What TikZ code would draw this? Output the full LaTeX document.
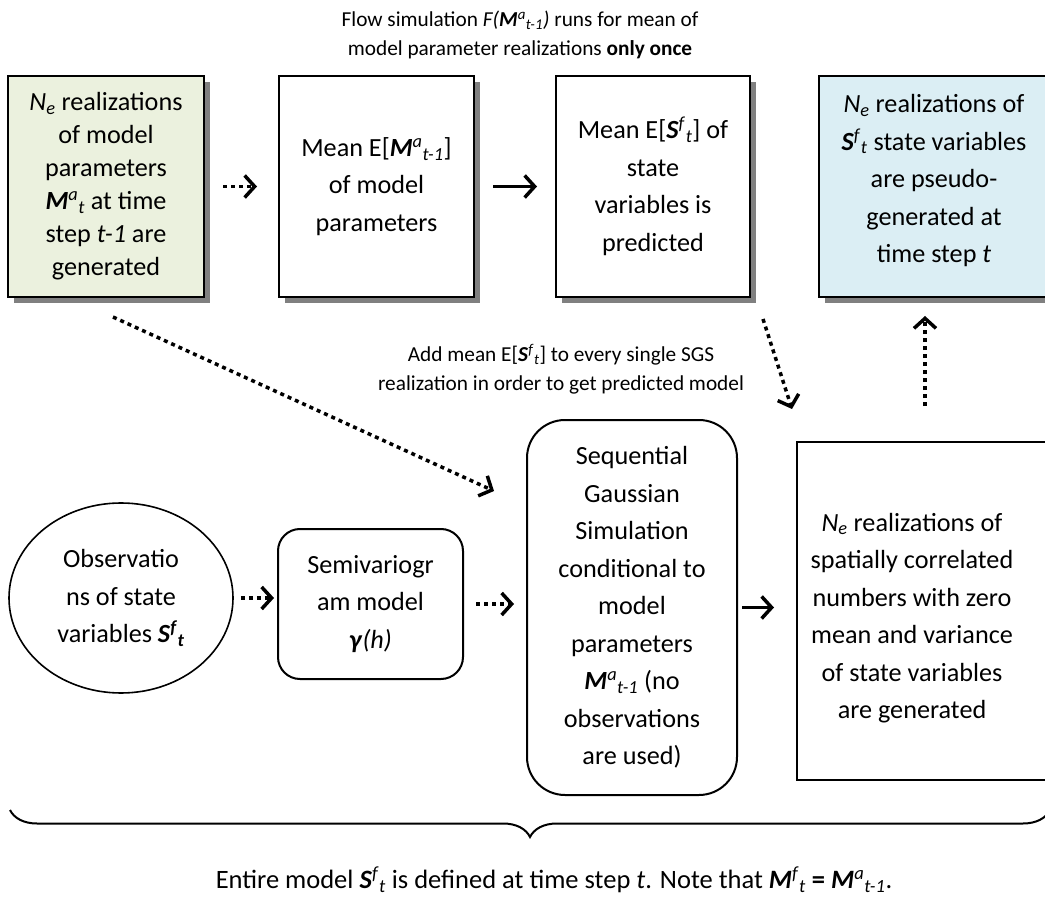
\documentclass[tikz,border=0pt]{standalone}
\usepackage{fontspec}
\setmainfont{Carlito}
\usetikzlibrary{arrows.meta,shapes.geometric,shadows,calc,decorations.pathreplacing}

\newcommand{\bi}[1]{\textbf{\textit{#1}}}
\newcommand{\sups}[1]{\textsuperscript{#1}}
\newcommand{\subs}[1]{\textsubscript{#1}}

\definecolor{paleGreen}{HTML}{EBF1DE}
\definecolor{paleBlue}{HTML}{DBEEF4}

\begin{document}
\begin{tikzpicture}[x=1pt,y=-1pt,
  txt/.style={font=\fontsize{26.2}{37.5}\selectfont, align=center, inner sep=0pt},
  tight/.style={font=\fontsize{26.2}{33}\selectfont},
  stepbox/.style={txt, draw, line width=2pt, minimum height=221pt,
    drop shadow={shadow xshift=6pt,shadow yshift=-6pt,fill=black!50,opacity=1}},
  roundbox/.style={txt, draw, line width=2pt},
  flow/.style={line width=3.5pt, -{Straight Barb[length=10pt,width=22pt,line width=3.5pt]}},
  dots/.style={flow, dash pattern=on 4pt off 4pt},
  note/.style={font=\fontsize{21.3}{29}\selectfont, align=center, inner sep=0pt}]

\useasboundingbox (0,0) rectangle (1045,904);

% top row
\node[stepbox, tight, fill=paleGreen, minimum width=196pt] (b1) at (106,186.5)
  {\textit{N\subs{e}} realizations\\ of model\\ parameters\\
   \bi{M}\sups{\textit{a}}\subs{\textit{t}} at time\\ step \textit{t-1} are\\ generated};
\node[stepbox, fill=white, minimum width=195pt] (b2) at (376.5,186.5)
  {Mean E[\bi{M}\sups{\textit{a}}\subs{\textit{t-1}}]\\ of model\\ parameters};
\node[stepbox, fill=white, minimum width=194pt] (b3) at (653,186.5)
  {Mean E[\bi{S}\sups{\textit{f}}\subs{\textit{t}}] of\\ state\\ variables is\\ predicted};
\node[stepbox, fill=paleBlue, minimum width=230pt] (b4) at (934,186.5)
  {\textit{N\subs{e}} realizations of\\ \bi{S}\sups{\textit{f}}\subs{\textit{t}} state variables\\
   are pseudo-\\ generated at\\ time step \textit{t}\\[-21.5pt]\mbox{}};

% bottom row
\node[txt, ellipse, draw, line width=1.6pt, minimum width=224pt, minimum height=190pt] (obs) at (121,598)
  {Observatio\\ ns of state\\ variables \bi{S}\sups{\bi{f}}\subs{\bi{t}}};
\node[roundbox, rounded corners=22pt, minimum width=185pt, minimum height=150pt] (semi) at (370.5,604)
  {Semivariogr\\ am model\\ \bi{γ}\textit{(h)}};
\node[roundbox, rounded corners=38pt, minimum width=210pt, minimum height=375pt] (sgs) at (632,607.5)
  {Sequential\\ Gaussian\\ Simulation\\ conditional to\\ model\\ parameters\\
   \bi{M}\sups{\textit{a}}\subs{\textit{t-1}} (no\\ observations\\ are used)};
\node[draw, line width=2pt, minimum width=260pt, minimum height=338pt] (rb) at (927,611) {};
\node[txt] (rbtext) at (912,618)
  {\textit{N\subs{e}} realizations of\\ spatially correlated\\ numbers with zero\\
   mean and variance\\ of state variables\\ are generated};

% captions
\node[note] (flowcap) at (520,35)
  {Flow simulation \textit{F(}\bi{M}\sups{\textit{a}}\subs{\textit{t-1}}\textit{)} runs for mean of\\
   model parameter realizations \textbf{only once}};
\node[note] (addcap) at (561,369)
  {Add mean E[\bi{S}\sups{\textit{f}}\subs{\textit{t}}] to every single SGS\\
   realization in order to get predicted model};
\node[font=\fontsize{26.5}{30}\selectfont, inner sep=0pt] (entire) at (554,880)
  {Entire model \bi{S}\sups{\textit{f}}\subs{\textit{t}} is defined at time step \textit{t}.
   Note that \bi{M}\sups{\textit{f}}\subs{\textit{t}} \textbf{=} \bi{M}\sups{\textit{a}}\subs{\textit{t-1}}.};

% connectors
\draw[dots, shorten <=18pt, shorten >=21pt] (b1.east) -- (b2.west);
\draw[flow, shorten <=18pt, shorten >=18pt] (b2.east) -- (b3.west);
\draw[dots, shorten <=7pt, shorten >=3pt] (obs.east) -- (obs.east -| semi.west);
\draw[dots, shorten <=12pt, shorten >=12pt] (semi.east) -- (semi.east -| sgs.west);
\draw[flow, shorten <=4pt, shorten >=22pt] (sgs.east) -- (sgs.east -| rb.west);

\coordinate (diagA) at ($(b1.south)+(7,19)$);
\coordinate (diagB) at ($(sgs.north west)+(-32,72)$);
\draw[dots] (diagA) -- (diagB);

\coordinate (downA) at ($(b3.south east)+(12,21)$);
\coordinate (downB) at ($(rb.north west)+(-4,-32)$);
\draw[dots] (downA) -- (downB);

\coordinate (upA) at ($(b4.south)+(-9,108)$);
\coordinate (upB) at ($(b4.south)+(-9,18)$);
\draw[dots] (upA) -- (upB);

% brace spanning the bottom row
\draw[line width=2pt, decorate, decoration={brace, mirror, amplitude=27pt}] (10,810) -- (1050,810);

\end{tikzpicture}
\end{document}
